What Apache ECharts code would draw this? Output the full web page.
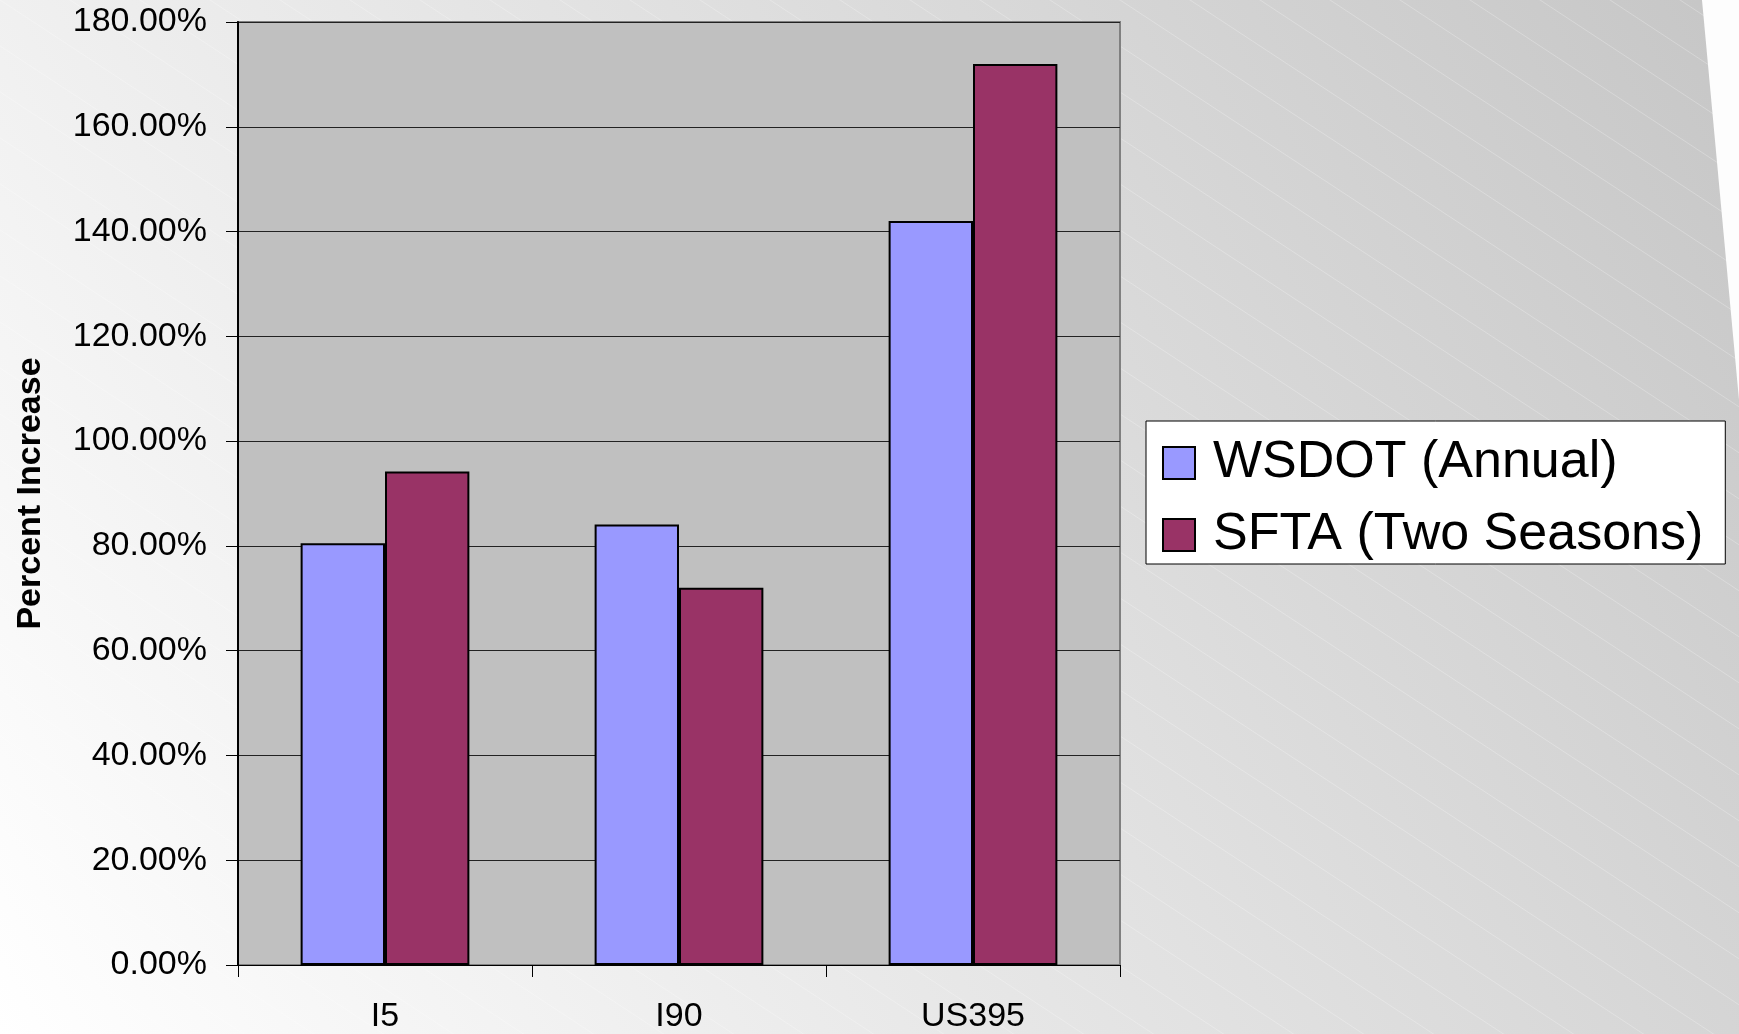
<!DOCTYPE html>
<html>
<head>
<meta charset="utf-8">
<script src="https://cdn.jsdelivr.net/npm/echarts@6/dist/echarts.min.js"></script>
<style>
html,body{margin:0;padding:0;background:#fff;}
#chart{width:1739px;height:1034px;}
</style>
</head>
<body>
<div id="chart"></div>
<script>
const categories = ['I5', 'I90', 'US395'];
const seriesNames = ['WSDOT (Annual)', 'SFTA (Two Seasons)'];
const wsdotValues = [80.5, 84.1, 142.0];
const sftaValues = [94.2, 72.0, 172.0];
const yTicks = [0, 20, 40, 60, 80, 100, 120, 140, 160, 180];

// faint diagonal stripe pattern for slide background
const tile = document.createElement('canvas');
tile.width = 70; tile.height = 46;
const tc = tile.getContext('2d');
tc.strokeStyle = 'rgba(255,255,255,0.25)';
tc.lineWidth = 1;
tc.beginPath();
tc.moveTo(-70, -46); tc.lineTo(140, 92);
tc.moveTo(-70, 0); tc.lineTo(70, 92);
tc.moveTo(0, -46); tc.lineTo(140, 46);
tc.stroke();

const chart = echarts.init(document.getElementById('chart'), null, {renderer: 'canvas'});
const FONT = '"Liberation Sans", Arial, sans-serif';

chart.setOption({
  animation: false,
  backgroundColor: 'transparent',
  graphic: [
    {type: 'rect', z: -10, silent: true, shape: {x: 0, y: 0, width: 1739, height: 1034},
     style: {fill: new echarts.graphic.LinearGradient(0, 1, 1, 0, [
       {offset: 0, color: '#ffffff'}, {offset: 1, color: '#c6c6c6'}])}},
    {type: 'rect', z: -9, silent: true, shape: {x: 0, y: 0, width: 1739, height: 1034},
     style: {fill: {image: tile, repeat: 'repeat'}}},
    {type: 'polygon', z: -8, silent: true, shape: {points: [[1702, 0], [1739, 0], [1739, 400]]},
     style: {fill: '#fdfdfd'}}
  ],
  legend: {
    orient: 'vertical',
    left: 1146, top: 421,
    data: seriesNames,
    backgroundColor: '#ffffff',
    borderColor: '#000000',
    borderWidth: 1,
    padding: [16, 22, 3, 16],
    itemWidth: 32, itemHeight: 32,
    itemGap: 20,
    itemStyle: {borderColor: '#000', borderWidth: 2},
    textStyle: {fontFamily: FONT, fontSize: 52, color: '#000', padding: [0, 0, 0, 13]},
    icon: 'rect'
  },
  grid: {left: 238, top: 22, right: 619, bottom: 67, show: true,
         backgroundColor: '#c0c0c0', borderColor: '#808080', borderWidth: 2},
  xAxis: {
    type: 'category',
    data: categories,
    axisLine: {show: true, lineStyle: {color: '#000', width: 1}},
    axisTick: {show: true, alignWithLabel: false, length: 12, lineStyle: {color: '#000'}},
    axisLabel: {fontFamily: FONT, fontSize: 34, color: '#000', margin: 35}
  },
  yAxis: {
    type: 'value',
    min: 0, max: 180, interval: 20,
    name: 'Percent Increase',
    nameLocation: 'middle',
    nameGap: 190,
    nameRotate: 90,
    nameTextStyle: {fontFamily: FONT, fontSize: 34, fontWeight: 'bold', color: '#000'},
    axisLine: {show: true, lineStyle: {color: '#000', width: 2}},
    axisTick: {show: true, length: 12, lineStyle: {color: '#000'}},
    splitLine: {show: true, lineStyle: {color: '#222', width: 1}},
    axisLabel: {fontFamily: FONT, fontSize: 34, color: '#000', margin: 31,
      formatter: v => yTicks.includes(v) ? v.toFixed(2) + '%' : ''}
  },
  series: [
    {name: seriesNames[0], type: 'bar', data: wsdotValues, barGap: '0%', barCategoryGap: '42.6%',
     itemStyle: {color: '#9999ff', borderColor: '#000', borderWidth: 2}},
    {name: seriesNames[1], type: 'bar', data: sftaValues, barGap: '0%', barCategoryGap: '42.6%',
     itemStyle: {color: '#993366', borderColor: '#000', borderWidth: 2}}
  ]
});
</script>
</body>
</html>
